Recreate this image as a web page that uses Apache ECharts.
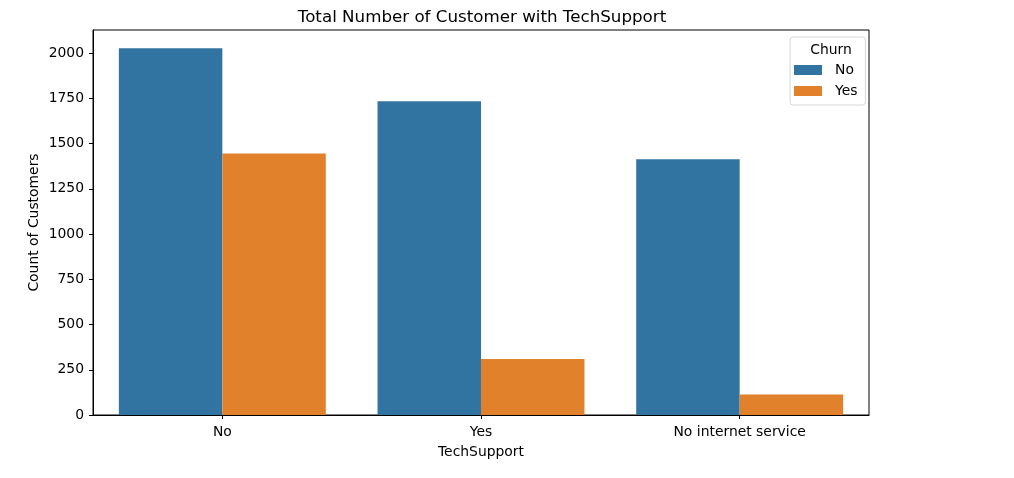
<!DOCTYPE html>
<html><head><meta charset="utf-8">
<script src="https://cdn.jsdelivr.net/npm/echarts@6/dist/echarts.min.js"></script>
<style>html,body{margin:0;padding:0;background:#fff}#c{width:1014px;height:478px}</style>
</head><body><div id="c"></div>
<script>
var categories = ["No", "Yes", "No internet service"];
var churnNo = [2027, 1734, 1413];
var churnYes = [1446, 310, 113];
var yTicks = [0, 250, 500, 750, 1000, 1250, 1500, 1750, 2000];

var chart = echarts.init(document.getElementById('c'), null, {renderer: 'canvas'});
var font = 'DejaVu Sans';
chart.setOption({
  animation: false,
  backgroundColor: '#fff',
  textStyle: {fontFamily: font},
  title: [
    {text: 'Total Number of Customer with TechSupport', left: 477, top: 4, textAlign: 'center',
     textStyle: {fontFamily: font, fontSize: 16.7, fontWeight: 'normal', color: '#000'}},
    {text: 'Churn', left: 826, top: 38, textAlign: 'center',
     textStyle: {fontFamily: font, fontSize: 13.9, fontWeight: 'normal', color: '#000'}}
  ],
  legend: {
    orient: 'vertical', left: 790, top: 37, width: 72,
    padding: [26, 8, 7, 4],
    itemWidth: 28, itemHeight: 10, itemGap: 7,
    borderColor: '#d6d6d6', borderWidth: 1, borderRadius: 3,
    backgroundColor: 'rgba(255,255,255,0.8)',
    icon: 'rect',
    textStyle: {fontFamily: font, fontSize: 13.9, lineHeight: 13, color: '#000', padding: [0, 0, 0, 8]},
    data: ['No', 'Yes']
  },
  grid: {left: 93, right: 145, top: 30, bottom: 63, show: true, borderColor: '#000', borderWidth: 1, backgroundColor: 'transparent'},
  xAxis: {
    type: 'category', data: categories, boundaryGap: true,
    name: 'TechSupport', nameLocation: 'middle', nameGap: 30,
    nameTextStyle: {fontFamily: font, fontSize: 13.9, color: '#000'},
    axisLine: {show: true, lineStyle: {color: '#000', width: 1}},
    axisTick: {show: true, alignWithLabel: true, length: 4, lineStyle: {color: '#000'}},
    axisLabel: {fontFamily: font, fontSize: 13.9, color: '#000', margin: 10},
    splitLine: {show: false}
  },
  yAxis: {
    type: 'value', min: 0, max: 2128, interval: 250,
    name: 'Count of Customers', nameLocation: 'middle', nameGap: 52, nameMoveOverlap: false,
    nameTextStyle: {fontFamily: font, fontSize: 13.9, color: '#000'},
    axisLine: {show: true, lineStyle: {color: '#000', width: 1}},
    axisTick: {show: true, length: 4, lineStyle: {color: '#000'}},
    axisLabel: {fontFamily: font, fontSize: 13.9, color: '#000', margin: 9, showMaxLabel: false,
      formatter: function (v) { return yTicks.indexOf(v) >= 0 ? String(v) : ''; }},
    splitLine: {show: false}
  },
  series: [
    {name: 'No', type: 'bar', data: churnNo, barGap: '0%', barCategoryGap: '20%',
     itemStyle: {color: '#3274a1'}},
    {name: 'Yes', type: 'bar', data: churnYes, barGap: '0%', barCategoryGap: '20%',
     itemStyle: {color: '#e1812c'}}
  ]
});
</script></body></html>
